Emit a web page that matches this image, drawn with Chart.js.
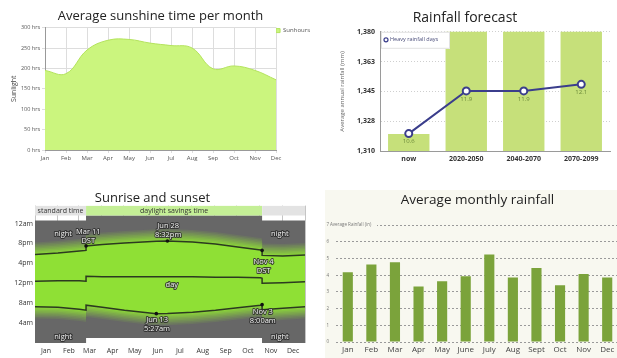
<!DOCTYPE html>
<html lang="en">
<head>
<meta charset="utf-8">
<title>Climate charts</title>
<script src="https://cdn.jsdelivr.net/npm/chart.js@4.4.1/dist/chart.umd.min.js"></script>
<style>
    html, body { margin: 0; padding: 0; background: #ffffff; }
    body { position: relative; width: 617px; height: 358px; overflow: hidden; }
    .panel { position: absolute; }
    .panel canvas { display: block; }
    #sunshine-panel { left: 0; top: 0; width: 320px; height: 170px; }
    #forecast-panel { left: 320px; top: 0; width: 297px; height: 170px; }
    #daylight-panel { left: 0; top: 185px; width: 315px; height: 173px; }
    #monthly-panel { left: 325px; top: 190px; width: 294px; height: 168px; background: #f8f8f0; }
</style>
</head>
<body>
<div class="panel" id="sunshine-panel"><canvas id="sunshine-chart"></canvas></div>
<div class="panel" id="forecast-panel"><canvas id="forecast-chart"></canvas></div>
<div class="panel" id="daylight-panel"><canvas id="daylight-chart"></canvas></div>
<div class="panel" id="monthly-panel"><canvas id="monthly-chart"></canvas></div>
<script>
const months = ["Jan", "Feb", "Mar", "Apr", "May", "Jun", "Jul", "Aug", "Sep", "Oct", "Nov", "Dec"];

// Average sunshine time per month
const sunshineHours = [195, 187, 245, 269, 271, 262, 256, 250, 199, 206, 195, 172];

// Rainfall forecast
const forecastPeriods = ["now", "2020-2050", "2040-2070", "2070-2099"];
const annualRainfall = [1320, 1390, 1390, 1390];
const heavyRainfallDays = [10.6, 11.9, 11.9, 12.1];
const rainfallTickValues = [1310, 1327.5, 1345, 1362.5, 1380];
const rainfallTickLabels = ["1,310", "1,328", "1,345", "1,363", "1,380"];

// Sunrise and sunset (day of year -> hour of day)
const sunDays      = [0, 31, 60, 69, 69, 91, 121, 152, 164, 179, 213, 244, 274, 305, 307, 307, 335, 365];
const sunriseHours = [7.3, 7.2, 6.8, 6.6, 7.6, 7.2, 6.6, 6.1, 5.9, 5.95, 6.2, 6.6, 7.1, 7.6, 7.7, 6.7, 7.0, 7.3];
const sunsetHours  = [17.8, 18.1, 18.5, 18.6, 19.5, 19.8, 20.1, 20.35, 20.45, 20.5, 20.3, 19.9, 19.3, 18.7, 18.6, 17.6, 17.5, 17.7];
const noonHours    = [12.4, 12.5, 12.5, 12.4, 13.4, 13.3, 13.3, 13.3, 13.3, 13.3, 13.3, 13.2, 13.2, 13.1, 13.0, 12.0, 12.1, 12.3];
const monthStartDays = [0, 31, 59, 90, 120, 151, 181, 212, 243, 273, 304, 334, 365];
const clockTickHours = [4, 8, 12, 16, 20, 24];
const clockTickLabels = ["4am", "8am", "12pm", "4pm", "8pm", "12am"];
const nightDays = [0, 69, 69, 307, 307, 365];
const nightTopHours = [24.6, 24.6, 25.6, 25.6, 24.6, 24.6];
const dstDays = [69, 307];
const dstFloorHours = [1, 1];
const clockPeriodStarts = [0, 69, 307];
const clockPeriodEnds = [69, 307, 365];
const clockPeriodLabels = ["standard time", "daylight savings time", ""];
const markerDays = [69, 179, 307, 164, 307];
const markerHours = [19.5, 20.5, 18.6, 5.9, 7.7];
const markerLabels = [["Mar 11", "DST"], ["Jun 28", "8:32pm"], ["Nov 4", "DST"], ["Jun 13", "5:27am"], ["Nov 3", "8:00am"]];
const markerLabelDays = [72, 180, 309, 165, 308];
const markerLabelHours = [21.4, 22.6, 15.4, 3.7, 5.4];
const nightLabelDays = [38, 331, 38, 331];
const nightLabelHours = [22, 22, 1.2, 1.2];

// Average monthly rainfall
const rainMonths = ["Jan", "Feb", "Mar", "Apr", "May", "June", "July", "Aug", "Sept", "Oct", "Nov", "Dec"];
const monthlyRainfall = [4.18, 4.64, 4.78, 3.32, 3.64, 3.94, 5.24, 3.86, 4.44, 3.4, 4.08, 3.86];

Chart.defaults.font.family = "'Open Sans', 'DejaVu Sans', sans-serif";
Chart.defaults.animation = false;
Chart.defaults.responsive = true;
Chart.defaults.maintainAspectRatio = false;
Chart.defaults.devicePixelRatio = 1;
Chart.defaults.plugins.tooltip.enabled = false;

const toPoints = (xs, ys) => xs.map((x, i) => ({ x, y: ys[i] }));

// ---------- sunshine ----------
new Chart(document.getElementById("sunshine-chart"), {
    type: "line",
    data: {
        labels: months,
        datasets: [{
            label: "Sunhours",
            data: sunshineHours,
            fill: "origin",
            backgroundColor: "#cbf57e",
            borderColor: "#b4e35e",
            borderWidth: 1,
            pointRadius: 0,
            tension: 0.4,
        }],
    },
    options: {
        layout: { padding: { bottom: 6 } },
        plugins: {
            title: {
                display: true,
                text: "Average sunshine time per month",
                color: "#222",
                fullSize: false,
                font: { size: 13, weight: "normal" },
                padding: { top: 8, bottom: 4 },
            },
            legend: {
                position: "right",
                align: "start",
                fullSize: false,
                labels: { boxWidth: 4, boxHeight: 4, padding: 0, color: "#555", font: { size: 6 } },
            },
        },
        scales: {
            x: {
                grid: { color: "#dddddd", tickLength: 3 },
                border: { color: "#999999" },
                ticks: { color: "#555", font: { size: 6 }, padding: 2, maxRotation: 0, autoSkip: false },
                afterFit: (axis) => { axis.height = 14; },
            },
            y: {
                min: 0,
                max: 300,
                ticks: { stepSize: 50, color: "#555", font: { size: 5.5 }, padding: 2, callback: (v) => v + " hrs" },
                grid: { color: "#dddddd", tickLength: 3 },
                border: { color: "#999999" },
                title: { display: true, text: "Sunlight", color: "#444", font: { size: 7 }, padding: { top: 10, bottom: 0 } },
                afterFit: (axis) => { axis.width = 45; },
            },
        },
    },
});

// ---------- rainfall forecast ----------
const forecastDecor = {
    id: "forecastDecor",
    afterDatasetsDraw(chart) {
        const { ctx } = chart;
        const meta = chart.getDatasetMeta(0);
        ctx.save();
        ctx.font = "6px 'Open Sans'";
        ctx.fillStyle = "#6c8a3a";
        ctx.textAlign = "center";
        ctx.textBaseline = "middle";
        meta.data.forEach((pt, i) => ctx.fillText(heavyRainfallDays[i].toFixed(1), pt.x, pt.y + 8));
        ctx.restore();
    },
    afterDraw(chart) {
        const { ctx, chartArea } = chart;
        const x = chartArea.left + 1;
        const y = chartArea.top;
        ctx.save();
        ctx.fillStyle = "#ffffff";
        ctx.fillRect(x, y, 69, 17);
        ctx.strokeStyle = "#e2e2e2";
        ctx.lineWidth = 1;
        ctx.strokeRect(x + 0.5, y + 0.5, 68, 16);
        ctx.beginPath();
        ctx.arc(x + 5, y + 8, 2, 0, Math.PI * 2);
        ctx.fillStyle = "#ffffff";
        ctx.fill();
        ctx.strokeStyle = "#3b3e8c";
        ctx.lineWidth = 1.2;
        ctx.stroke();
        ctx.font = "5.5px 'Open Sans'";
        ctx.fillStyle = "#4a4d7a";
        ctx.textBaseline = "middle";
        ctx.fillText("Heavy rainfall days", x + 9, y + 8);
        ctx.restore();
    },
};

new Chart(document.getElementById("forecast-chart"), {
    data: {
        labels: forecastPeriods,
        datasets: [
            {
                type: "line",
                label: "Heavy rainfall days",
                data: heavyRainfallDays,
                yAxisID: "days",
                borderColor: "#3b3e8c",
                borderWidth: 2,
                pointRadius: 3.5,
                pointBackgroundColor: "#ffffff",
                pointBorderColor: "#3b3e8c",
                pointBorderWidth: 2,
                order: 0,
            },
            {
                type: "bar",
                label: "Average annual rainfall",
                data: annualRainfall,
                backgroundColor: "#c6e07a",
                barPercentage: 0.72,
                categoryPercentage: 1,
                order: 1,
            },
        ],
    },
    options: {
        layout: { padding: { right: 7 } },
        plugins: {
            title: {
                display: true,
                text: "Rainfall forecast",
                color: "#222",
                font: { size: 14, weight: "normal" },
                padding: { top: 10, bottom: 5 },
            },
            legend: { display: false },
        },
        scales: {
            x: {
                grid: { display: false, drawTicks: false },
                border: { color: "#9a9a9a" },
                ticks: { color: "#333", font: { size: 7, weight: "bold" }, padding: 4 },
                afterFit: (axis) => { axis.height = 19; },
            },
            y: {
                min: 1310,
                max: 1380,
                afterBuildTicks: (axis) => { axis.ticks = rainfallTickValues.map((value) => ({ value })); },
                ticks: { color: "#333", font: { size: 7, weight: "bold" }, padding: 5, callback: (v, i) => rainfallTickLabels[i] },
                grid: { color: "#cfcfcf", drawTicks: false },
                border: { color: "#9a9a9a", dash: [1, 2] },
                title: { display: true, text: "Average annual rainfall (mm)", color: "#666", font: { size: 6 }, padding: { top: 19, bottom: 0 } },
                afterFit: (axis) => { axis.width = 60; },
            },
            days: { display: false, position: "right", min: 10.07, max: 13.7 },
        },
    },
    plugins: [forecastDecor],
});

// ---------- sunrise and sunset ----------
const clockBandFloor = 25.6;
const clockBandTop = 27.6;
const twilightShades = [
    { offset: 2.4, color: "#6b7461" },
    { offset: 2.1, color: "#70825c" },
    { offset: 1.8, color: "#748f56" },
    { offset: 1.5, color: "#799d51" },
    { offset: 1.2, color: "#7daa4b" },
    { offset: 0.9, color: "#82b846" },
    { offset: 0.6, color: "#86c540" },
    { offset: 0.3, color: "#8bd33b" },
];
const darkLine = "#2c3a20";

const area = (data, extra) => ({ type: "line", data, pointRadius: 0, borderWidth: 0, tension: 0, ...extra });

const daylightDatasets = [
    area(toPoints(nightDays, nightTopHours), { fill: "origin", backgroundColor: "#676767", order: 95 }),
    area(toPoints(dstDays, dstFloorHours), { fill: "origin", backgroundColor: "#ffffff", order: 94 }),
];
clockPeriodStarts.forEach((start, i) => {
    daylightDatasets.push(area([{ x: start, y: clockBandTop }, { x: clockPeriodEnds[i], y: clockBandTop }], {
        fill: { value: clockBandFloor },
        backgroundColor: i === 1 ? "#c4ef96" : "#e3e3e3",
        order: 93,
    }));
});
twilightShades.forEach((shade, i) => {
    daylightDatasets.push(area(toPoints(sunDays, sunriseHours.map((h) => h - shade.offset)), { order: 80 - i * 2 }));
    daylightDatasets.push(area(toPoints(sunDays, sunsetHours.map((h) => h + shade.offset)), {
        fill: "-1", backgroundColor: shade.color, order: 79 - i * 2,
    }));
});
daylightDatasets.push(area(toPoints(sunDays, sunriseHours), { borderWidth: 1.5, borderColor: darkLine, order: 3 }));
daylightDatasets.push(area(toPoints(sunDays, sunsetHours), {
    fill: "-1", backgroundColor: "#8fe035", borderWidth: 1.5, borderColor: darkLine, order: 4,
}));
daylightDatasets.push(area(toPoints(sunDays, noonHours), { borderWidth: 1.5, borderColor: darkLine, order: 2 }));
daylightDatasets.push(area(toPoints(markerDays, markerHours), {
    showLine: false, pointRadius: 1.8, pointBackgroundColor: "#111111", pointBorderWidth: 0, order: 1,
}));

const outlinedText = (ctx, text, x, y) => {
    ctx.strokeText(text, x, y);
    ctx.fillText(text, x, y);
};

const daylightDecor = {
    id: "daylightDecor",
    afterDraw(chart) {
        const { ctx, scales } = chart;
        const { x: xs, y: ys } = scales;
        ctx.save();
        ctx.textAlign = "center";
        ctx.textBaseline = "middle";

        ctx.font = "7px 'Open Sans'";
        ctx.fillStyle = "#333333";
        const bandY = ys.getPixelForValue((clockBandFloor + clockBandTop) / 2);
        clockPeriodLabels.forEach((label, i) => {
            if (!label) return;
            ctx.fillText(label, xs.getPixelForValue((clockPeriodStarts[i] + clockPeriodEnds[i]) / 2), bandY);
        });

        ctx.font = "7.5px 'Open Sans'";
        ctx.lineJoin = "round";
        ctx.lineWidth = 2;
        ctx.strokeStyle = "rgba(45, 45, 45, 0.85)";
        ctx.fillStyle = "#f1f1f1";
        nightLabelDays.forEach((d, i) => {
            outlinedText(ctx, "night", xs.getPixelForValue(d), ys.getPixelForValue(nightLabelHours[i]));
        });
        outlinedText(ctx, "day", xs.getPixelForValue(185), ys.getPixelForValue(11.6));
        markerLabels.forEach((lines, i) => {
            const cx = xs.getPixelForValue(markerLabelDays[i]);
            const cy = ys.getPixelForValue(markerLabelHours[i]);
            outlinedText(ctx, lines[0], cx, cy - 4.5);
            outlinedText(ctx, lines[1], cx, cy + 4.5);
        });
        ctx.restore();
    },
};

new Chart(document.getElementById("daylight-chart"), {
    type: "line",
    data: { datasets: daylightDatasets },
    options: {
        layout: { padding: { right: 10 } },
        plugins: {
            title: {
                display: true,
                text: "Sunrise and sunset",
                color: "#222",
                font: { size: 13, weight: "normal" },
                padding: { top: 5, bottom: 0 },
            },
            legend: { display: false },
        },
        scales: {
            x: {
                type: "linear",
                min: 0,
                max: 365,
                z: 1,
                afterBuildTicks: (axis) => { axis.ticks = monthStartDays.map((value) => ({ value })); },
                ticks: {
                    color: "#333", font: { size: 7 }, padding: 4, labelOffset: 11,
                    autoSkip: false, maxRotation: 0, callback: (v, i) => months[i] ?? "",
                },
                grid: { color: "rgba(140, 140, 140, 0.5)", drawTicks: false },
                border: { display: false },
                afterFit: (axis) => { axis.height = 15; },
            },
            y: {
                min: 0,
                max: clockBandTop,
                afterBuildTicks: (axis) => { axis.ticks = clockTickHours.map((value) => ({ value })); },
                ticks: { color: "#333", font: { size: 7 }, padding: 2, callback: (v, i) => clockTickLabels[i] },
                grid: { display: false, drawTicks: false },
                border: { display: false },
                afterFit: (axis) => { axis.width = 35; },
            },
        },
    },
    plugins: [daylightDecor],
});

// ---------- average monthly rainfall ----------
const monthlyDecor = {
    id: "monthlyDecor",
    afterDraw(chart) {
        const { ctx, chartArea, scales } = chart;
        const y = scales.y.getPixelForValue(7);
        ctx.save();
        ctx.fillStyle = "#f8f8f0";
        ctx.fillRect(chartArea.left - 1, y - 3, 42, 6);
        ctx.font = "4.5px 'Open Sans'";
        ctx.fillStyle = "#777";
        ctx.textBaseline = "middle";
        ctx.fillText("Average Rainfall (in)", chartArea.left - 6, y);
        ctx.restore();
    },
};

new Chart(document.getElementById("monthly-chart"), {
    type: "bar",
    data: {
        labels: rainMonths,
        datasets: [{
            label: "Average Rainfall (in)",
            data: monthlyRainfall,
            backgroundColor: "#7ba33b",
            barPercentage: 0.43,
            categoryPercentage: 1,
        }],
    },
    options: {
        plugins: {
            title: {
                display: true,
                text: "Average monthly rainfall",
                color: "#222",
                fullSize: false,
                font: { size: 13.5, weight: "normal" },
                padding: { top: 2, bottom: 17 },
            },
            legend: { display: false },
        },
        scales: {
            x: {
                grid: { display: false, drawTicks: false },
                border: { display: false },
                ticks: { color: "#444", font: { size: 8 }, padding: 3 },
                afterFit: (axis) => { axis.height = 16; },
            },
            y: {
                min: 0,
                max: 7,
                ticks: { stepSize: 1, color: "#777", font: { size: 4.5 }, padding: 7 },
                grid: { color: "#9a9a9a", drawTicks: false },
                border: { display: false, dash: [2, 2] },
                afterFit: (axis) => { axis.width = 11; },
            },
        },
    },
    plugins: [monthlyDecor],
});
</script>
</body>
</html>
